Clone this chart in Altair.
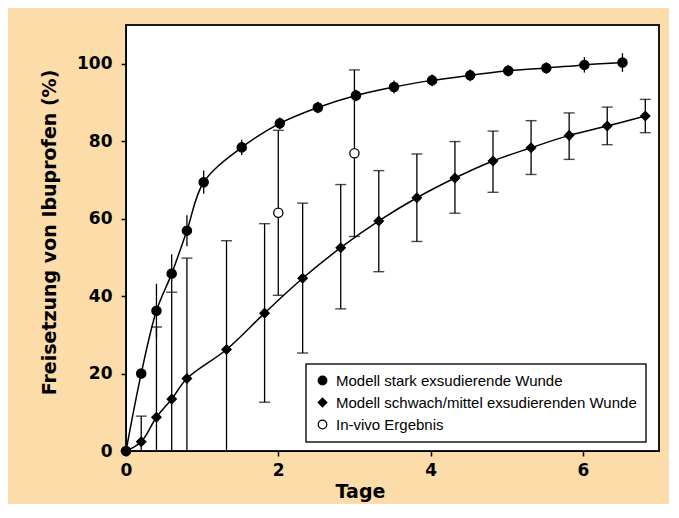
import altair as alt
import pandas as pd

# ---- data ----
labels = ["Modell stark exsudierende Wunde",
          "Modell schwach/mittel exsudierenden Wunde",
          "In-vivo Ergebnis"]

days_stark = [0, 0.2, 0.4, 0.6, 0.8, 1.02, 1.52, 2.02, 2.52, 3.02, 3.52, 4.02, 4.52, 5.02, 5.52, 6.02, 6.52]
stark = [0, 20.0, 36.2, 45.8, 56.9, 69.4, 78.4, 84.6, 88.7, 91.8, 94.0, 95.7, 97.0, 98.2, 98.9, 99.7, 100.3]
stark_err = [0, 1.0, 7.0, 5.0, 4.0, 3.0, 2.0, 1.5, 1.5, 1.5, 1.7, 1.5, 1.5, 1.5, 1.5, 2.0, 2.4]

days_schwach = [0, 0.2, 0.4, 0.6, 0.8, 1.32, 1.82, 2.32, 2.82, 3.32, 3.82, 4.32, 4.82, 5.32, 5.82, 6.32, 6.82]
schwach = [0, 2.4, 8.7, 13.4, 18.7, 26.2, 35.6, 44.6, 52.5, 59.4, 65.4, 70.5, 74.9, 78.3, 81.5, 83.9, 86.5]
schwach_hi = [0, 9.0, 32.0, 41.0, 49.8, 54.3, 58.7, 64.0, 68.8, 72.4, 76.7, 79.9, 82.6, 85.3, 87.3, 88.8, 90.8]
schwach_lo = [0, 0, 0, 0, 0, 0, 12.6, 25.3, 36.7, 46.3, 54.1, 61.4, 66.8, 71.4, 75.3, 79.1, 82.2]

days_vivo = [2.0, 3.0]
vivo = [61.5, 76.9]
vivo_err = [21.3, 21.5]

x_ticks = [0, 2, 4, 6]
y_ticks = [0, 20, 40, 60, 80, 100]

# ---- build tables ----
rows = []
for d, v, e in zip(days_stark, stark, stark_err):
    rows.append(dict(day=d, val=v, lo=max(v - e, 0), hi=v + e, serie=labels[0], cap=0))
for d, v, lo, hi in zip(days_schwach, schwach, schwach_lo, schwach_hi):
    rows.append(dict(day=d, val=v, lo=lo, hi=hi, serie=labels[1], cap=1))
for d, v, e in zip(days_vivo, vivo, vivo_err):
    rows.append(dict(day=d, val=v, lo=v - e, hi=v + e, serie=labels[2], cap=1))
df = pd.DataFrame(rows)

caps = []
for r in rows:
    if r["cap"] and r["hi"] > r["val"]:
        caps.append(dict(day=r["day"], c=r["hi"]))
    if r["cap"] and r["lo"] > 0:
        caps.append(dict(day=r["day"], c=r["lo"]))
caps_df = pd.DataFrame(caps)

xs = alt.Scale(domain=[0, 7], nice=False)
ys = alt.Scale(domain=[0, 110], nice=False)

x_axis = alt.Axis(values=x_ticks, format="d", labelOverlap=False, labelFlush=False,
                  title="Tage", titleX=234, titleY=46,
                  titleBaseline="alphabetic", titleAnchor="start", titleAlign="center")
y_axis = alt.Axis(values=y_ticks, format="d", labelOverlap=False, labelFlush=False,
                  title="Freisetzung von Ibuprofen (%)",
                  titleX=-71, titleY=207, titleAngle=-90,
                  titleBaseline="alphabetic", titleAlign="center", titleAnchor="start")

base = alt.Chart(df)

err = base.mark_rule(color="black", strokeWidth=1.3).encode(
    x=alt.X("day:Q", scale=xs, axis=x_axis),
    y=alt.Y("lo:Q", scale=ys, axis=y_axis), y2="hi:Q")

capmarks = alt.Chart(caps_df).mark_tick(orient="horizontal", size=11, thickness=1.4,
                                          color="black").encode(
    x=alt.X("day:Q", scale=xs), y=alt.Y("c:Q", scale=ys))

lines = base.transform_filter(
    alt.FieldOneOfPredicate(field="serie", oneOf=labels[:2])
).mark_line(color="black", strokeWidth=1.5, interpolate="catmull-rom").encode(
    x=alt.X("day:Q", scale=xs), y=alt.Y("val:Q", scale=ys), detail="serie:N")

points = base.mark_point(filled=True, strokeWidth=1.3, size=85,
                         opacity=1, fillOpacity=1).encode(
    x=alt.X("day:Q", scale=xs),
    y=alt.Y("val:Q", scale=ys),
    shape=alt.Shape("serie:N", title=None,
                    scale=alt.Scale(domain=labels, range=["circle", "diamond", "circle"])),
    fill=alt.Fill("serie:N", title=None,
                  scale=alt.Scale(domain=labels, range=["black", "black", "white"])),
    stroke=alt.Stroke("serie:N", title=None,
                      scale=alt.Scale(domain=labels, range=["black", "black", "black"])),
)

chart = alt.layer(err, capmarks, lines, points).properties(
    width=533, height=426,
    autosize=alt.AutoSizeParams(type="none"),
    padding={"left": 118, "top": 17, "right": 10, "bottom": 53},
    background="#FCDDA9",
).configure_view(
    fill="white", stroke="#1a1a1a", strokeWidth=2
).configure_axis(
    grid=False, domainColor="black", domainWidth=1, tickColor="black", tickWidth=1.5,
    tickSize=5, labelFont="DejaVu Sans", labelFontWeight="bold", labelFontSize=17,
    labelColor="black", titleFont="DejaVu Sans", titleFontWeight="bold",
    titleFontSize=19, titleColor="black"
).configure_axisX(labelPadding=6).configure_axisY(labelPadding=9).configure_legend(
    orient="none", legendX=180, legendY=339, padding=9,
    strokeColor="#1a1a1a", fillColor="white", strokeWidth=1.5,
    labelFont="Liberation Sans", labelFontSize=15, labelColor="black",
    symbolSize=75, symbolStrokeWidth=1.2,
    rowPadding=6, labelOffset=6, labelLimit=400
)

chart.save("out.html", embed_options={"renderer": "svg", "actions": False})
